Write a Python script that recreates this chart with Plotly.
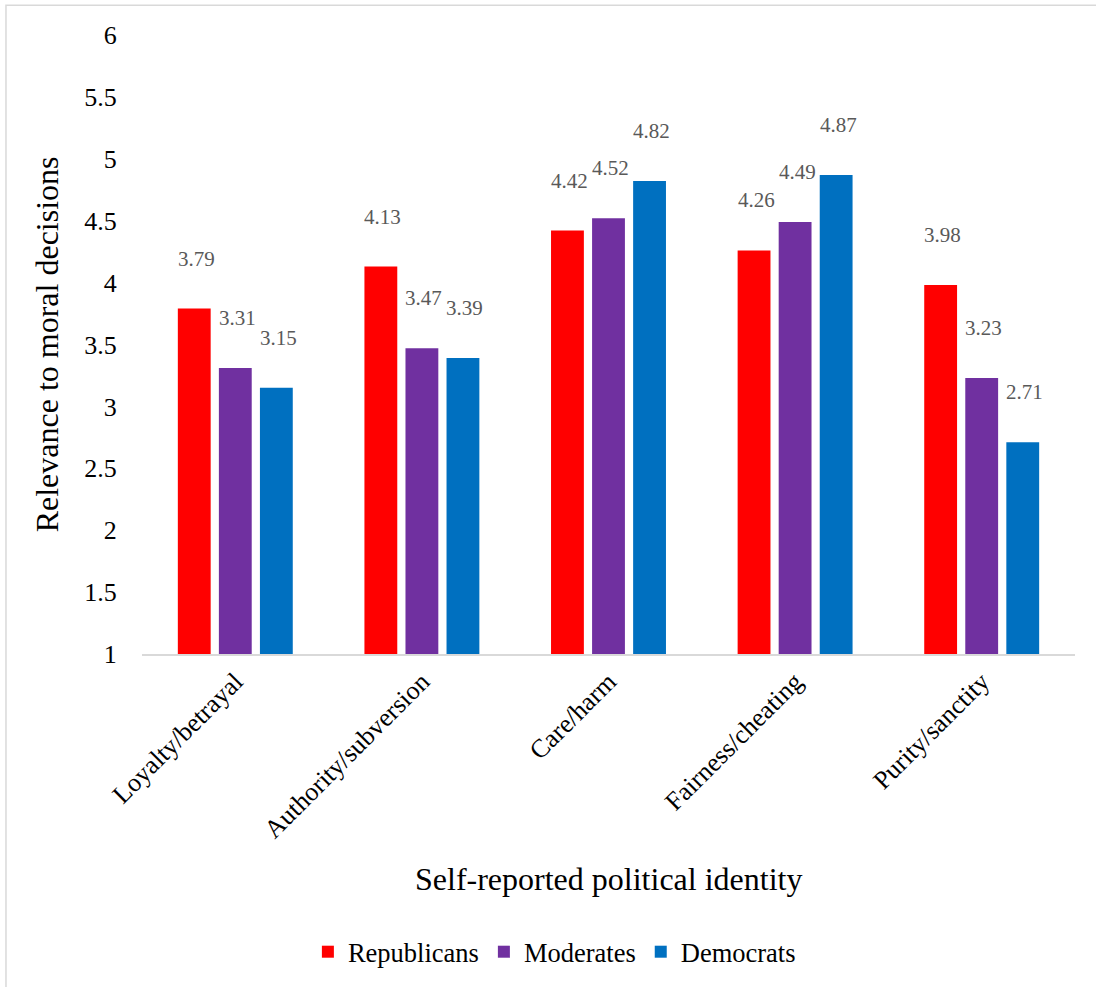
import plotly.graph_objects as go

categories = ["Loyalty/betrayal", "Authority/subversion", "Care/harm", "Fairness/cheating", "Purity/sanctity"]
republicans = [3.79, 4.13, 4.42, 4.26, 3.98]
moderates = [3.31, 3.47, 4.52, 4.49, 3.23]
democrats = [3.15, 3.39, 4.82, 4.87, 2.71]
series_names = ["Republicans", "Moderates", "Democrats"]
colors = ["#FF0000", "#7030A0", "#0070C0"]
y_ticks = [1, 1.5, 2, 2.5, 3, 3.5, 4, 4.5, 5, 5.5, 6]

serif = "Liberation Serif"
fig = go.Figure()
all_series = [republicans, moderates, democrats]
for name, vals, col in zip(series_names, all_series, colors):
    fig.add_trace(go.Bar(x=categories, y=[v - 1 for v in vals], base=1, name=name,
                         marker=dict(color=col, line=dict(width=0))))

annotations = []
offsets = [-41, 0, 41]
for vals, off in zip(all_series, offsets):
    for c, v in zip(categories, vals):
        annotations.append(dict(x=c, y=v, xref="x", yref="y", text=f"{v:.2f}",
                                showarrow=False, xshift=off + 2, yshift=50, yanchor="middle",
                                font=dict(family=serif, size=21, color="#595959")))
annotations.append(dict(text="Relevance to moral decisions", xref="paper", yref="paper",
                        x=-0.102, y=0.5, textangle=-90, showarrow=False,
                        xanchor="center", yanchor="middle",
                        font=dict(family=serif, size=32, color="#000000")))
annotations.append(dict(text="Self-reported political identity", xref="paper", yref="paper",
                        x=0.5, y=-0.363, showarrow=False, xanchor="center", yanchor="middle",
                        font=dict(family=serif, size=32, color="#000000")))

fig.update_layout(
    width=1096, height=987,
    margin=dict(l=142, r=21, t=35, b=332),
    paper_bgcolor="white", plot_bgcolor="white",
    barmode="group", bargap=0.34, bargroupgap=0.2,
    showlegend=True,
    legend=dict(orientation="h", x=0.442, y=-0.479, xanchor="center", yanchor="middle",
                font=dict(family=serif, size=26.5, color="#000000"), itemwidth=30,
                traceorder="normal"),
    annotations=annotations,
    shapes=[dict(type="rect", xref="paper", yref="paper", x0=-0.1458, x1=1.2, y0=-0.7, y1=1.048,
                 line=dict(color="#D9D9D9", width=1.5), fillcolor="rgba(0,0,0,0)", layer="below")],
)
fig.update_xaxes(tickangle=-45, tickfont=dict(family=serif, size=26, color="#000000"),
                 showline=True, linecolor="#D9D9D9", linewidth=2, ticks="", showgrid=False)
fig.update_yaxes(range=[1, 6], tickvals=y_ticks, ticktext=[f"{t:g}" for t in y_ticks],
                 tickfont=dict(family=serif, size=26, color="#000000"),
                 showgrid=False, zeroline=False, showline=False, ticks="outside",
                 ticklen=19, tickcolor="rgba(0,0,0,0)")
fig.write_html("out.html", config={"displayModeBar": False},
               post_script="document.body.style.margin='0px';")
